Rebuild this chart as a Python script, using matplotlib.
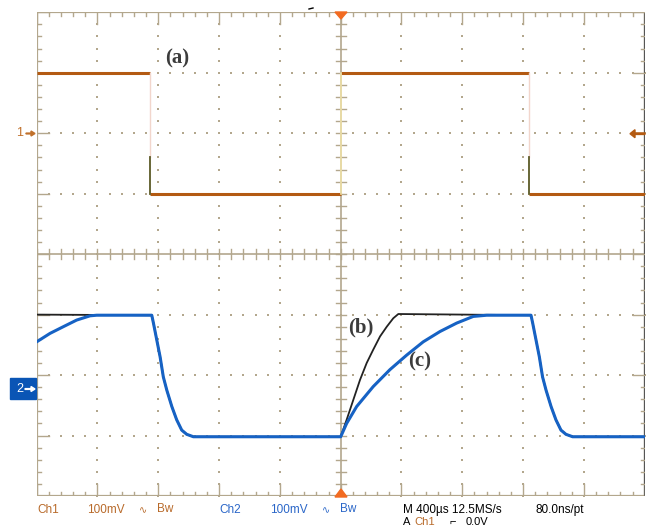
import numpy as np
import matplotlib
matplotlib.use('Agg')
import matplotlib.pyplot as plt
from matplotlib.patches import Rectangle, Polygon, FancyArrow

# Scope settings: 400 us/div, 100 mV/div, 10 x 8 divisions
t_div, v_div = 400, 100
ch1_offset = 200      # mV on screen (marker "1" is 2 div above centre)
ch2_offset = -225     # mV on screen (marker "2")

# Channel 1 (a): square wave, mV
ch1_hi, ch1_lo = 100, -100
ch1_fall_t = [-1257, 1239]
ch1_rise_t = 0
ch1_kink = -39        # level where the faint falling edge turns dark

# Channel 2, falling edge shape (time after edge start, mV)
fall_dt = [0, 11, 33, 55, 76, 99, 132, 164, 197, 230, 274, 307]
fall_v = [124, 111, 83, 55, 22, 0, -27, -49, -66, -73, -77, -77]
ch2_fall_t = [-1243, 1252]
ch2_lo = -77

# (c) blue trace rising edge, and tail of previous rise at left edge
rise_c_t = [0, 39, 105, 214, 324, 434, 543, 653, 763, 872, 961]
rise_c_v = [-77, -55, -27, 6, 34, 58, 80, 97, 111, 122, 124]
tail_c_t = [-2000, -1912, -1825, -1737, -1649, -1605]
tail_c_v = [80, 94, 105, 116, 123, 124]

# (b) black trace rising edge
rise_b_t = [0, 39, 83, 127, 171, 214, 259, 303, 346, 379]
rise_b_v = [-77, -49, -16, 17, 45, 67, 89, 105, 119, 126]
ch2b_hi = 125

W, H = 649, 529
fig = plt.figure(figsize=(W / 100, H / 100), dpi=100)
ax = fig.add_axes([36.7 / W, 1 - 496 / H, 608 / W, 483.7 / H])
ax.set_xlim(-5 * t_div, 5 * t_div)
ax.set_ylim(-4 * v_div, 4 * v_div)
ax.axis('off')

grat = '#b3a78d'
px_x = t_div / 60.8   # us per pixel
px_y = v_div / 60.46  # mV per pixel

# dotted division lines
sub_x = np.arange(-25, 26) * t_div / 5
sub_y = np.arange(-20, 21) * v_div / 5
for k in range(-4, 5):
    if k == 0:
        continue
    ax.scatter(np.full(len(sub_y), k * t_div), sub_y, s=1.3, marker='s', color=grat, lw=0)
for m in range(-3, 4):
    if m == 0:
        continue
    ax.scatter(sub_x, np.full(len(sub_x), m * v_div), s=1.3, marker='s', color=grat, lw=0)

# centre cross with ticks
ax.plot([0, 0], [-400, 400], color=grat, lw=1.2)
ax.plot([-2000, 2000], [0, 0], color=grat, lw=1.2)
for y in sub_y:
    ax.plot([-5 * px_x, 5 * px_x], [y, y], color=grat, lw=1.0)
for x in sub_x:
    ax.plot([x, x], [-5 * px_y, 5 * px_y], color=grat, lw=1.0)

# border with inward ticks
ax.plot([-2000, 2000, 2000, -2000, -2000], [400, 400, -400, -400, 400], color=grat, lw=1.6)
ax.plot([2000, 2000], [-400, 400], color='#555555', lw=1.6)
for i, x in enumerate(sub_x):
    L = (12 if i % 5 == 0 else 4) * px_y
    ax.plot([x, x], [400, 400 - L], color=grat, lw=1.0)
    ax.plot([x, x], [-400, -400 + L], color=grat, lw=1.0)
for i, y in enumerate(sub_y):
    L = (12 if i % 5 == 0 else 4) * px_x
    ax.plot([-2000, -2000 + L], [y, y], color=grat, lw=1.0)
    ax.plot([2000, 2000 - L], [y, y], color=grat, lw=1.0)

# Channel 1 trace
brown = '#b35a12'
f0, f1 = ch1_fall_t
ax.plot([-2000, f0], [ch1_hi + ch1_offset] * 2, color=brown, lw=2.2, solid_capstyle='butt')
ax.plot([f0, ch1_rise_t], [ch1_lo + ch1_offset] * 2, color=brown, lw=2.2, solid_capstyle='butt')
ax.plot([ch1_rise_t, f1], [ch1_hi + ch1_offset] * 2, color=brown, lw=2.2, solid_capstyle='butt')
ax.plot([f1, 2000], [ch1_lo + ch1_offset] * 2, color=brown, lw=2.2, solid_capstyle='butt')
for f in ch1_fall_t:
    ax.plot([f, f], [ch1_hi + ch1_offset, ch1_kink + ch1_offset], color='#f2d6cc', lw=1.0)
    ax.plot([f, f], [ch1_kink + ch1_offset, ch1_lo + ch1_offset], color='#5c5a26', lw=1.3)
ax.plot([ch1_rise_t] * 2, [ch1_lo + ch1_offset, ch1_hi + ch1_offset], color='#f0e2a8', lw=1.2)

# Channel 2 traces
fd = np.array(fall_dt)
b_t = [-2000] + list(ch2_fall_t[0] + fd) + rise_b_t + list(ch2_fall_t[1] + fd) + [2000]
b_v = [ch2b_hi] + fall_v + rise_b_v + fall_v + [ch2_lo]
c_t = tail_c_t + list(ch2_fall_t[0] + fd) + rise_c_t + list(ch2_fall_t[1] + fd) + [2000]
c_v = tail_c_v + fall_v + rise_c_v + fall_v + [ch2_lo]
ax.plot(b_t, np.array(b_v) + ch2_offset, color='#222222', lw=1.3)
ax.plot(c_t, np.array(c_v) + ch2_offset, color='#1662c4', lw=2.2)

# labels
lab = dict(family='Liberation Serif', fontweight='bold', fontsize=15, color='#3c3c3c',
           ha='center', va='center')
fig.text(177 / W, 1 - 58 / H, '(a)', **lab)
fig.text(361 / W, 1 - 327 / H, '(b)', **lab)
fig.text(420 / W, 1 - 361 / H, '(c)', **lab)

# overlay in pixel coordinates for scope markers and readouts
ov = fig.add_axes([0, 0, 1, 1], zorder=5)
ov.set_xlim(0, W)
ov.set_ylim(H, 0)
ov.axis('off')
ov.patch.set_alpha(0)

orange = '#f26b21'
ov.add_patch(Polygon([(335, 12), (347, 12), (341, 19)], color=orange))
ov.add_patch(Polygon([(335, 497), (347, 497), (341, 489)], color=orange))
ov.plot([309, 313], [9, 8], color='black', lw=1)

# ch1 ground marker and trigger level
ov.text(20, 133, '1', color='#c0702a', fontsize=9, ha='center', va='center', family='Liberation Sans')
ov.add_patch(FancyArrow(26, 133.5, 9, 0, width=0.8, head_width=5, head_length=4,
                        length_includes_head=True, color='#c0702a'))
ov.add_patch(FancyArrow(645, 133.7, -15, 0, width=1.5, head_width=8, head_length=5,
                        length_includes_head=True, color='#b35a12'))

# ch2 marker
ov.add_patch(Rectangle((10, 378), 26, 21, color='#0a55b5'))
ov.text(20, 389, '2', color='white', fontsize=9, ha='center', va='center', family='Liberation Sans')
ov.add_patch(FancyArrow(25, 389, 10, 0, width=0.8, head_width=5, head_length=4,
                        length_includes_head=True, color='white'))

# readouts
ro = dict(family='Liberation Sans', fontsize=8.5, va='center')
c1col, c2col = '#b86a2a', '#2a66c8'
y1 = 510
ov.text(37, y1, 'Ch1', color=c1col, **ro)
ov.text(87, y1, '100mV', color=c1col, **ro)
ov.text(139, y1, '∿', color=c1col, fontsize=7, va='center')
ov.text(157, y1 - 1, 'Bw', color=c1col, **ro)
ov.text(219, y1, 'Ch2', color=c2col, **ro)
ov.text(270, y1, '100mV', color=c2col, **ro)
ov.text(322, y1, '∿', color=c2col, fontsize=7, va='center')
ov.text(340, y1 - 1, 'Bw', color=c2col, **ro)
ov.text(403, y1, 'M 400µs 12.5MS/s', color='black', **ro)
ov.text(536, y1, '80.0ns/pt', color='black', **ro)
ro2 = dict(family='Liberation Sans', fontsize=8, va='center')
y2 = 522
ov.text(403, y2, 'A', color='black', **ro2)
ov.text(414, y2, 'Ch1', color=c1col, **ro2)
ov.text(450, y2, '⌐', color='black', **ro2)
ov.text(466, y2, '0.0V', color='black', **ro2)

fig.savefig('out.png', dpi=100, facecolor='white')
